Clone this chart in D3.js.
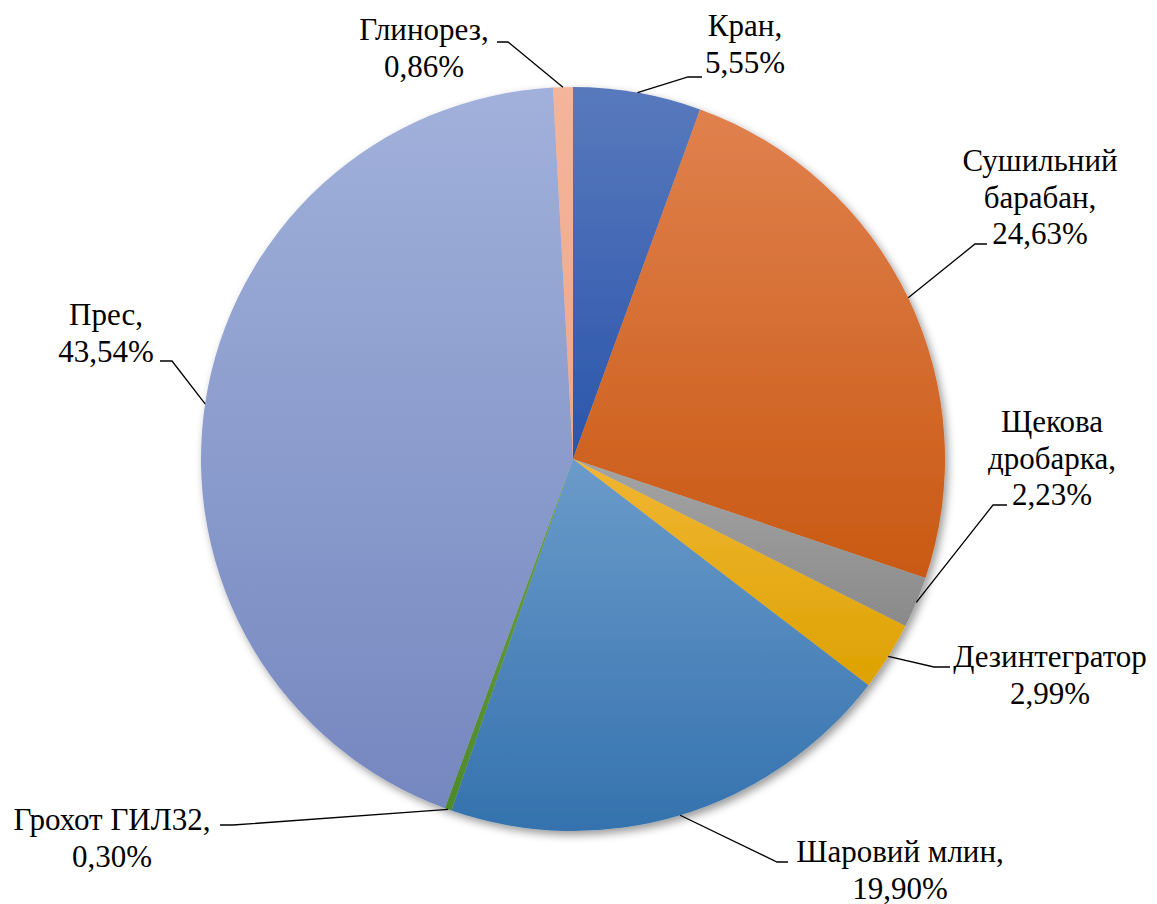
<!DOCTYPE html>
<html>
<head>
<meta charset="utf-8">
<script src="https://cdn.jsdelivr.net/npm/d3@7"></script>
</head>
<body style="margin:0;background:#fff">
<svg id="chart" width="1157" height="904"></svg>
<script>
// ---- data ----
const categories = ["Кран", "Сушильний барабан", "Щекова дробарка", "Дезинтегратор",
                    "Шаровий млин", "Грохот ГИЛ32", "Прес", "Глинорез"];
const values = [5.55, 24.63, 2.23, 2.99, 19.90, 0.30, 43.54, 0.86];
const labelLines = [
  ["Кран,", "5,55%"],
  ["Сушильний", "барабан,", "24,63%"],
  ["Щекова", "дробарка,", "2,23%"],
  ["Дезинтегратор", "2,99%"],
  ["Шаровий млин,", "19,90%"],
  ["Грохот ГИЛ32,", "0,30%"],
  ["Прес,", "43,54%"],
  ["Глинорез,", "0,86%"]
];

// ---- styling / layout ----
const colorsTop    = ["#5979BD", "#E0814E", "#A4A4A4", "#F1B634", "#6B9BCA", "#6BA142", "#A1B1DB", "#F4B59B"];
const colorsBottom = ["#2A55AB", "#C95913", "#8A8A8A", "#DDA200", "#3472AE", "#4E892C", "#7587BF", "#EFA787"];
const labelLayout = [
  { x: 745,  y: 36,  elbow: [688, 77],  end: [702, 77] },
  { x: 1040, y: 171, elbow: [975, 244], end: [987, 244] },
  { x: 1052, y: 432, elbow: [993, 505], end: [1007, 505] },
  { x: 1050, y: 667, elbow: [934, 667], end: [950, 667] },
  { x: 900,  y: 862, elbow: [777, 862], end: [788, 862] },
  { x: 112,  y: 830, elbow: [233, 825], end: [220, 825] },
  { x: 106,  y: 325, elbow: [172, 361], end: [160, 361] },
  { x: 424,  y: 40,  elbow: [508, 42],  end: [497, 42] }
];
const cx = 573, cy = 459, radius = 372;
const fontSize = 31, lineGap = 36.5;
const fontFamily = '"Liberation Serif"';

const svg = d3.select("#chart");
const defs = svg.append("defs");

const shadow = defs.append("filter").attr("id", "shadow")
  .attr("x", "-10%").attr("y", "-10%").attr("width", "125%").attr("height", "125%");
shadow.append("feDropShadow").attr("dx", 3).attr("dy", 4).attr("stdDeviation", 4)
  .attr("flood-color", "#000").attr("flood-opacity", 0.4);

categories.forEach((c, i) => {
  const g = defs.append("linearGradient").attr("id", "grad" + i)
    .attr("x1", 0).attr("y1", 0).attr("x2", 0).attr("y2", 1);
  g.append("stop").attr("offset", "0%").attr("stop-color", colorsTop[i]);
  g.append("stop").attr("offset", "100%").attr("stop-color", colorsBottom[i]);
});

const data = categories.map((c, i) => ({ name: c, value: values[i], idx: i }));
const pie = d3.pie().value(d => d.value).sort(null);
const arcs = pie(data);
const arc = d3.arc().innerRadius(0).outerRadius(radius);

const root = svg.append("g").attr("transform", `translate(${cx},${cy})`);
const pieG = root.append("g").attr("filter", "url(#shadow)");
pieG.selectAll("path").data(arcs).enter().append("path")
  .attr("d", arc)
  .attr("fill", d => `url(#grad${d.data.idx})`);

svg.append("g").selectAll("polyline").data(arcs).enter().append("polyline")
  .attr("points", d => {
    const a = (d.startAngle + d.endAngle) / 2;
    const p = [cx + radius * Math.sin(a), cy - radius * Math.cos(a)];
    const L = labelLayout[d.data.idx];
    return [p, L.elbow, L.end].map(q => q.join(",")).join(" ");
  })
  .attr("fill", "none").attr("stroke", "#000").attr("stroke-width", 1.3);

arcs.forEach(d => {
  const L = labelLayout[d.data.idx];
  labelLines[d.data.idx].forEach((line, j) => {
    svg.append("text")
      .attr("x", L.x).attr("y", L.y + j * lineGap)
      .attr("text-anchor", "middle")
      .style("font-family", fontFamily)
      .attr("font-size", fontSize)
      .attr("fill", "#000")
      .text(line);
  });
});
</script>
</body>
</html>
